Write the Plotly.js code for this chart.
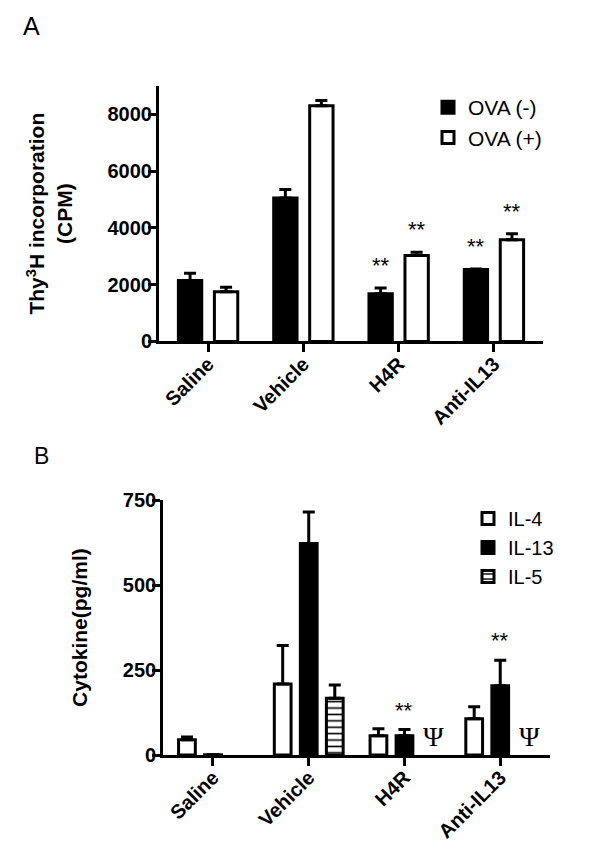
<!DOCTYPE html>
<html>
<head>
<meta charset="utf-8">
<script src="https://cdn.plot.ly/plotly-3.0.1.min.js"></script>
<style>html,body{margin:0;padding:0;background:#fff;}#chart{width:600px;height:858px;}</style>
</head>
<body>
<div id="chart"></div>
<script>
// ---- Data ----
var categories = ['Saline', 'Vehicle', 'H4R', 'Anti-IL13'];

// Panel A: Thy3H incorporation (CPM)
var ovaNeg = [2150, 5050, 1680, 2530];
var ovaNegErr = [250, 300, 200, 20];
var ovaPos = [1750, 8300, 3030, 3580];
var ovaPosErr = [160, 180, 110, 210];
var sigOvaNeg = ['', '', '**', '**'];
var sigOvaPos = ['', '', '**', '**'];

// Panel B: Cytokine (pg/ml)
var il4 = [45, 209, 57, 107];
var il4Err = [8, 113, 20, 35];
var il13 = [1, 622, 57, 204];
var il13Err = [0, 93, 18, 75];
var il5 = [null, 167, null, null];
var il5Err = [0, 39, 0, 0];
var sigIl13 = ['', '', '**', '**'];
var markIl5 = ['', '', 'Ψ', 'Ψ'];

var zerosA = [0, 0, 0, 0];

// ---- Styling ----
var FONT = 'Arial, "Liberation Sans", sans-serif';
var SERIF = '"Times New Roman", "Liberation Serif", serif';

function errY(arr) {
  return {type: 'data', array: arr, arrayminus: zerosA, symmetric: false,
          color: 'black', thickness: 3, width: 6, visible: true};
}

var wA = 0.245, cA = 0.189;
var wB = 0.175, cB = 0.272;

var traces = [
  {type: 'bar', name: 'OVA (-)', x: categories, y: ovaNeg, xaxis: 'x', yaxis: 'y', legend: 'legend',
   width: wA, offset: -cA - wA / 2,
   marker: {color: 'black', line: {color: 'black', width: 3}}, error_y: errY(ovaNegErr)},
  {type: 'bar', name: 'OVA (+)', x: categories, y: ovaPos, xaxis: 'x', yaxis: 'y', legend: 'legend',
   width: wA, offset: cA - wA / 2,
   marker: {color: 'white', line: {color: 'black', width: 3}}, error_y: errY(ovaPosErr)},
  {type: 'bar', name: 'IL-4', x: categories, y: il4, xaxis: 'x2', yaxis: 'y2', legend: 'legend2',
   width: wB, offset: -cB - wB / 2,
   marker: {color: 'white', line: {color: 'black', width: 3}}, error_y: errY(il4Err)},
  {type: 'bar', name: 'IL-13', x: categories, y: il13, xaxis: 'x2', yaxis: 'y2', legend: 'legend2',
   width: wB, offset: -wB / 2,
   marker: {color: 'black', line: {color: 'black', width: 3}}, error_y: errY(il13Err)},
  {type: 'bar', name: 'IL-5', x: categories, y: il5, xaxis: 'x2', yaxis: 'y2', legend: 'legend2',
   width: wB, offset: cB - wB / 2,
   marker: {color: 'white', line: {color: 'black', width: 3},
            pattern: {shape: '-', fgcolor: 'black', bgcolor: 'white', size: 6.4, solidity: 0.25, fillmode: 'replace'}},
   error_y: errY(il5Err)}
];

var annotations = [
  {text: 'A', xref: 'paper', yref: 'paper', x: 31 / 600, y: 1 - 26 / 858, xanchor: 'center', yanchor: 'middle',
   showarrow: false, font: {family: FONT, size: 25, color: 'black'}},
  {text: 'B', xref: 'paper', yref: 'paper', x: 41.5 / 600, y: 1 - 455.5 / 858, xanchor: 'center', yanchor: 'middle',
   showarrow: false, font: {family: FONT, size: 23, color: 'black'}}
];

function addSig(sig, vals, errs, center, xref, yref, shift) {
  for (var i = 0; i < sig.length; i++) {
    if (!sig[i]) continue;
    annotations.push({text: sig[i], xref: xref, yref: yref, x: i + center, y: vals[i] + errs[i],
      xanchor: 'center', yanchor: 'bottom', yshift: shift, showarrow: false,
      font: {family: FONT, size: 22, color: 'black'}});
  }
}
addSig(sigOvaNeg, ovaNeg, ovaNegErr, -cA, 'x', 'y', 8);
addSig(sigOvaPos, ovaPos, ovaPosErr, cA, 'x', 'y', 8);
addSig(sigIl13, il13, il13Err, 0, 'x2', 'y2', 5);
for (var i = 0; i < markIl5.length; i++) {
  if (!markIl5[i]) continue;
  annotations.push({text: markIl5[i], xref: 'x2', yref: 'y2', x: i + cB + 0.03, y: 0,
    xanchor: 'center', yanchor: 'bottom', yshift: 1, showarrow: false,
    font: {family: SERIF, size: 28, color: 'black'}});
}

function xAxis(domain, anchor, range) {
  return {domain: domain, anchor: anchor, type: 'category', range: range,
    showline: true, linecolor: 'black', linewidth: 3, mirror: false,
    ticks: 'outside', ticklen: 8, tickwidth: 3, tickcolor: 'black',
    tickangle: -45, showgrid: false, zeroline: false, ticklabelstandoff: -8,
    tickfont: {family: FONT, size: 20, color: 'black', weight: 'bold'}};
}
function yAxis(domain, anchor, range, dtick, title, standoff, tsize) {
  return {domain: domain, anchor: anchor, range: range, dtick: dtick, tick0: 0,
    showline: true, linecolor: 'black', linewidth: 3,
    ticks: 'outside', ticklen: 8, tickwidth: 3, tickcolor: 'black',
    showgrid: false, zeroline: false, ticklabelstandoff: -8,
    tickfont: {family: FONT, size: 20, color: 'black', weight: 'bold'},
    title: {text: title, standoff: standoff, font: {family: FONT, size: tsize, color: 'black', weight: 'bold'}}};
}

var layout = {
  width: 600, height: 858,
  margin: {l: 0, r: 0, t: 0, b: 0},
  paper_bgcolor: 'white', plot_bgcolor: 'white',
  barmode: 'overlay',
  xaxis: xAxis([0.265, 0.905], 'y', [-0.515, 3.515]),
  yaxis: yAxis([0.602, 0.9], 'x', [0, 9000], 2000, 'Thy<sup>3</sup>H incorporation<br>(CPM)', 30, 21),
  xaxis2: xAxis([0.272, 0.9167], 'y2', [-0.52, 3.52]),
  yaxis2: yAxis([0.12, 0.4172], 'x2', [0, 750], 250, 'Cytokine(pg/ml)', 30, 21),
  legend: {x: 428 / 600, y: 1 - 87 / 858, xanchor: 'left', yanchor: 'top', bgcolor: 'rgba(0,0,0,0)',
           font: {family: FONT, size: 21, color: 'black'}, tracegroupgap: 0},
  legend2: {x: 468 / 600, y: 1 - 499 / 858, xanchor: 'left', yanchor: 'top', bgcolor: 'rgba(0,0,0,0)',
           font: {family: FONT, size: 20, color: 'black'}, tracegroupgap: 0},
  showlegend: true,
  annotations: annotations
};

Plotly.newPlot('chart', traces, layout, {displayModeBar: false, staticPlot: true});
</script>
</body>
</html>
